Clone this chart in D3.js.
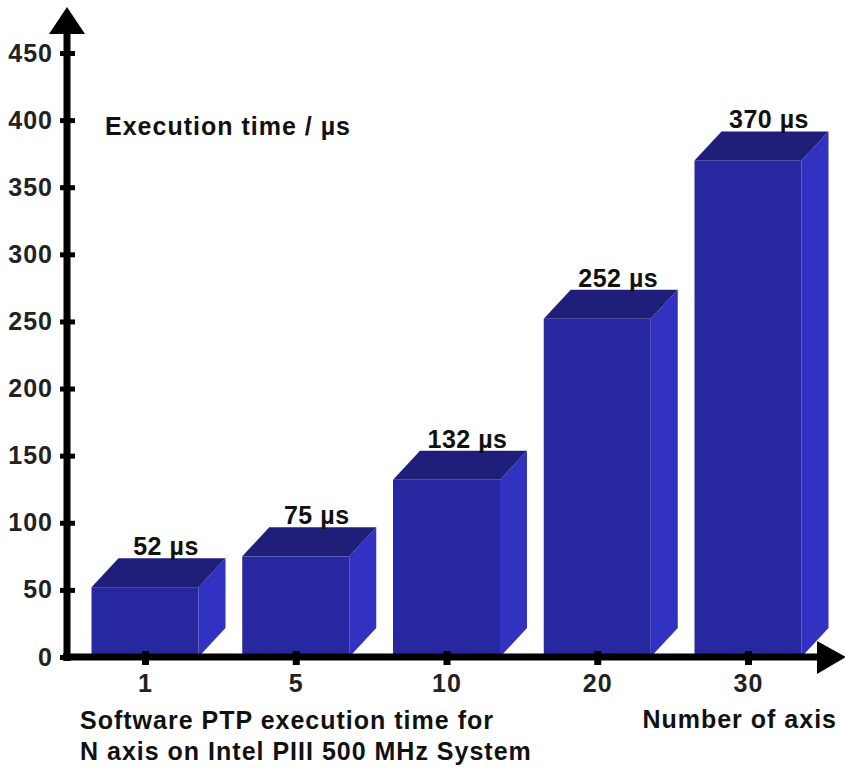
<!DOCTYPE html>
<html>
<head>
<meta charset="utf-8">
<script src="https://cdn.jsdelivr.net/npm/d3@7"></script>
<style>
  body { margin: 0; background: #fff; }
  text { font-family: "Liberation Sans", Arial, sans-serif; font-weight: bold; }
</style>
</head>
<body>
<div id="chart"></div>
<script>
// data
const axisCounts = ["1", "5", "10", "20", "30"]
const execTimes = [52, 75, 132, 252, 370]
const yTickValues = [0, 50, 100, 150, 200, 250, 300, 350, 400, 450]

const data = axisCounts.map((c, i) => ({ n: c, t: execTimes[i] }))

function draw() {
    let dimensions = {
        width: 845,
        height: 771,
        originX: 67,
        originY: 657,
    }

    const svg = d3.select('#chart')
        .append("svg")
        .attr("width", dimensions.width)
        .attr("height", dimensions.height)

    // scales
    const y = d3.scaleLinear()
        .domain([0, 450])
        .range([dimensions.originY, 53])

    const x = d3.scalePoint()
        .domain(axisCounts)
        .range([145, 748])

    const barW = 107
    const depthX = 27
    const depthY = 29

    const colors = { front: "#2727a0", top: "#1f1f7a", side: "#3131c2" }

    // bars (3D boxes)
    const bars = svg.append("g")
        .selectAll("g")
        .data(data)
        .join("g")

    // side face
    bars.append("path")
        .attr("fill", colors.side)
        .attr("d", d => {
            const x1 = x(d.n) + barW / 2, y0 = y(0), y1 = y(d.t)
            return `M${x1},${y0} L${x1},${y1} L${x1 + depthX},${y1 - depthY} L${x1 + depthX},${y0 - depthY} Z`
        })

    // top face
    bars.append("path")
        .attr("fill", colors.top)
        .attr("d", d => {
            const x0 = x(d.n) - barW / 2, x1 = x(d.n) + barW / 2, y1 = y(d.t)
            return `M${x0},${y1} L${x1},${y1} L${x1 + depthX},${y1 - depthY} L${x0 + depthX},${y1 - depthY} Z`
        })

    // front face
    bars.append("rect")
        .attr("fill", colors.front)
        .attr("x", d => x(d.n) - barW / 2)
        .attr("y", d => y(d.t))
        .attr("width", barW)
        .attr("height", d => y(0) - y(d.t))

    // value labels
    bars.append("text")
        .attr("x", d => x(d.n) + 21)
        .attr("y", d => y(d.t) - depthY - 3)
        .attr("text-anchor", "middle")
        .attr("font-size", 25)
        .attr("letter-spacing", 0.5)
        .attr("fill", "#111")
        .text(d => `${d.t} µs`)

    //////////
    // AXES //
    //////////
    const yAxis = svg.append("g")
        .attr("transform", `translate(${dimensions.originX},0)`)
        .call(d3.axisLeft(y).tickValues(yTickValues).tickSize(0).tickPadding(14))
    yAxis.select(".domain").remove()
    yAxis.selectAll(".tick text")
        .attr("font-size", 25)
        .attr("font-family", "'Liberation Sans', Arial, sans-serif")
        .attr("font-weight", "bold")
        .attr("letter-spacing", 1)
        .attr("fill", "#222")
    yAxis.selectAll(".tick").append("line")
        .attr("x1", -7).attr("x2", 8)
        .attr("stroke", "#000").attr("stroke-width", 5)

    const xAxis = svg.append("g")
        .attr("transform", `translate(0,${dimensions.originY})`)
        .call(d3.axisBottom(x).tickSize(0).tickPadding(17))
    xAxis.select(".domain").remove()
    xAxis.selectAll(".tick text")
        .attr("font-size", 25)
        .attr("font-family", "'Liberation Sans', Arial, sans-serif")
        .attr("font-weight", "bold")
        .attr("letter-spacing", 1)
        .attr("fill", "#222")
    xAxis.selectAll(".tick").append("line")
        .attr("y1", -6).attr("y2", 8)
        .attr("stroke", "#000").attr("stroke-width", 7)

    // axis lines with arrows
    svg.append("line")
        .attr("x1", dimensions.originX).attr("x2", dimensions.originX)
        .attr("y1", dimensions.originY + 4).attr("y2", 30)
        .attr("stroke", "#000").attr("stroke-width", 7)
    svg.append("path")
        .attr("d", `M${dimensions.originX},7 L${dimensions.originX + 18},34 L${dimensions.originX - 18},34 Z`)
        .attr("fill", "#000")

    svg.append("line")
        .attr("x1", dimensions.originX - 4).attr("x2", 822)
        .attr("y1", dimensions.originY).attr("y2", dimensions.originY)
        .attr("stroke", "#000").attr("stroke-width", 7)
    svg.append("path")
        .attr("d", `M846,${dimensions.originY} L817,${dimensions.originY - 16} L817,${dimensions.originY + 17} Z`)
        .attr("fill", "#000")

    // titles
    svg.append("text")
        .attr("x", 105).attr("y", 135)
        .attr("font-size", 25)
        .attr("letter-spacing", 1)
        .attr("fill", "#111")
        .text("Execution time / µs")

    svg.append("text")
        .attr("x", 80).attr("y", 729)
        .attr("font-size", 25)
        .attr("letter-spacing", 1)
        .attr("fill", "#111")
        .text("Software PTP execution time for")
    svg.append("text")
        .attr("x", 80).attr("y", 760)
        .attr("font-size", 25)
        .attr("letter-spacing", 1)
        .attr("fill", "#111")
        .text("N axis on Intel PIII 500 MHz System")

    svg.append("text")
        .attr("x", 837).attr("y", 728)
        .attr("text-anchor", "end")
        .attr("font-size", 25)
        .attr("letter-spacing", 1)
        .attr("fill", "#111")
        .text("Number of axis")
}
draw()
</script>
</body>
</html>
